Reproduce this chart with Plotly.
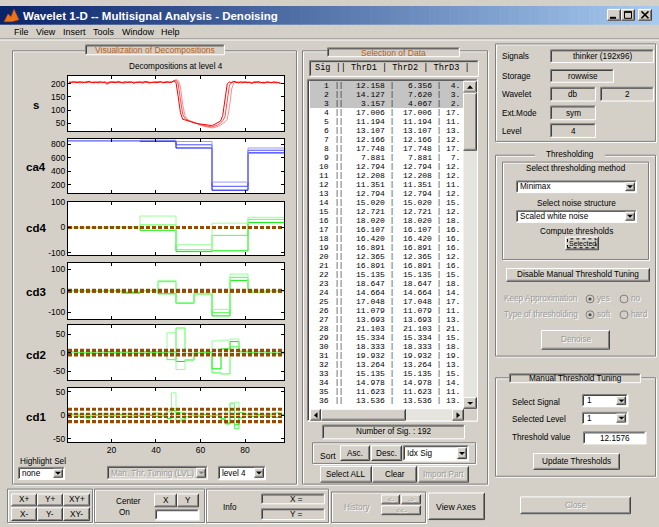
import plotly.graph_objects as go

# ------------------------------------------------------------------ data
s_sig1 = [207, 205, 209, 204, 206, 208, 203, 206, 205, 210,
          204, 206, 207, 203, 208, 205, 206, 198, 205, 207,
          206, 204, 209, 205, 203, 207, 206, 205, 208, 201,
          206, 205, 207, 204, 209, 206, 203, 205, 207, 204,
          206, 208, 205, 204, 207, 206, 205, 212, 205, 150,
          90, 65, 62, 60, 58, 55, 52, 50, 48, 47,
          45, 44, 42, 43, 41, 44, 48, 52, 58, 80,
          150, 200, 207, 204, 210, 205, 203, 208, 205, 207,
          204, 206, 201, 207, 205, 208, 204, 206, 203, 207,
          205, 204, 208, 203, 205, 202]
s_sig2 = [205, 207, 204, 208, 206, 203, 207, 205, 209, 206,
          207, 203, 205, 208, 206, 204, 207, 205, 203, 206,
          208, 206, 204, 207, 205, 202, 206, 208, 205, 207,
          204, 207, 206, 203, 205, 208, 206, 204, 206, 207,
          205, 207, 204, 206, 208, 205, 207, 209, 214, 200,
          140, 85, 68, 62, 58, 55, 52, 50, 46, 44,
          42, 40, 38, 37, 36, 38, 40, 44, 50, 60,
          75, 140, 195, 206, 208, 204, 207, 205, 203, 206,
          207, 205, 203, 206, 208, 204, 206, 202, 205, 207,
          204, 206, 203, 207, 204, 200]
s_sig3 = [203, 206, 205, 207, 204, 206, 208, 204, 206, 205,
          205, 208, 204, 206, 203, 207, 205, 204, 208, 206,
          204, 207, 205, 203, 206, 209, 205, 206, 204, 206,
          207, 206, 204, 208, 205, 207, 205, 206, 204, 208,
          207, 205, 206, 208, 204, 206, 208, 210, 216, 212,
          190, 120, 80, 66, 60, 56, 52, 48, 45, 42,
          40, 38, 36, 34, 32, 33, 35, 38, 42, 48,
          55, 65, 110, 180, 204, 207, 205, 203, 208, 206,
          204, 207, 206, 203, 205, 208, 206, 204, 207, 205,
          206, 203, 205, 207, 204, 202]

ca4_sig1 = [850, 850, 858, 838, 243, 743]
ca4_sig2 = [850, 850, 850, 790, 181, 710]
ca4_sig3 = [850, 850, 842, 743, 124, 671]

cd4_sig1 = [1, 0, 45, -68, 17, 40]
cd4_sig2 = [0, -1, 10, -88, -31, 32]
cd4_sig3 = [-1, 1, -11, -95, -92, 20]

cd3_sig1 = [0, 1, 0, -3, 0, 48, -55, -12, -86, 77, -4, 0]
cd3_sig2 = [1, 0, -1, -12, 1, 42, -58, -15, -101, 62, -7, 1]
cd3_sig3 = [0, -1, 1, -8, 0, -14, -56, -13, -116, 48, -2, -1]

cd2_sig1 = [1, -2, 2, 0, -1, 3, -2, 1, 0, -3, 2, 54, -46, -20, 1, -2, 32, 34, 37, -3, 2, -1, 1, 0]
cd2_sig2 = [-1, 1, -3, 2, 0, -1, 2, -2, 3, 0, -2, -19, 67, -2, -1, 2, -55, -58, 16, 2, -2, 3, -1, 2]
cd2_sig3 = [2, 0, 1, -2, 3, 1, -1, 0, -2, 2, 1, 2, -24, -20, 0, 1, -44, 10, 30, 4, 1, -2, 0, -3]

cd1_sig1 = [2, -1, 3, -2, 1, 0, -4, 2, 1, -1, 3, -5,
            2, 0, -2, 4, 1, -3, 2, 0, -1, 3, 8, 48,
            -10, 6, -3, 2, -1, 1, 0, -2, 3, -1, 4, 10,
            22, 28, -6, 4, -2, 5, -3, 1, 2, -1, 6, 0]
cd1_sig2 = [0, 2, -2, 1, -6, 3, 0, -1, 4, -3, 2, 1,
            -2, 3, -4, 0, 2, -1, 1, 5, -2, 2, 12, 14,
            -12, -8, 4, -1, 2, -3, 1, 0, -1, 2, -6, -15,
            26, -28, 6, 2, -3, 4, -1, 0, 3, -2, 5, 1]
cd1_sig3 = [-1, 3, 1, -3, 2, -2, 1, 3, -2, 0, -1, 2,
            4, -2, 1, -1, -3, 2, 0, -2, 3, -1, -6, 10,
            6, -12, -2, 3, 0, -1, 2, -2, 1, 0, -8, -18,
            14, -20, -4, 3, 1, -2, 2, -1, 0, 3, -4, 2]

thr_d1 = [12.158, 14.127, 3.157, 17.006, 11.194, 13.107, 12.166, 17.748, 7.881,
          12.794, 12.208, 11.351, 12.794, 15.020, 12.721, 18.020, 16.107, 16.420,
          16.891, 12.365, 16.891, 15.135, 18.647, 14.664, 17.048, 11.079, 13.693,
          21.103, 15.334, 18.333, 19.932, 13.264, 15.135, 14.978, 11.623, 13.536]
thr_d2_head = [6.356, 7.620, 4.067]
thr_d3_head = [4.512, 3.268, 2.413]
thr_d4_head = [1.9, 1.4, 1.0]
thr_d2 = thr_d2_head + thr_d1[3:]
thr_d3 = thr_d3_head + thr_d1[3:]
sig_index = list(range(1, 37))

x_ticks = [20, 40, 60, 80]
X_LO, X_HI = 0.5, 97.5

# ------------------------------------------------------------------ style helpers
W, H = 659, 527
BG = '#d4d0c8'
DARK = '#808080'
DARKER = '#404040'
WHITE = '#ffffff'
SANS = 'Liberation Sans, Arial, sans-serif'
MONO = 'Liberation Mono, Courier New, monospace'
ORANGE = '#b8621b'
BROWN = 'rgb(150,75,0)'

shapes, annos = [], []


def X(p):
    return p / W


def Y(p):
    return 1 - p / H


def q(v):
    return int(v) + 0.5


def rect(x0, y0, x1, y1, fill=None, line=None, lw=1, dash=None):
    ln = dict(width=0) if line is None else dict(color=line, width=lw)
    if dash:
        ln['dash'] = dash
    shapes.append(dict(type='rect', xref='paper', yref='paper', x0=X(x0), x1=X(x1),
                       y0=Y(y1), y1=Y(y0), fillcolor=fill if fill else 'rgba(0,0,0,0)',
                       line=ln, layer='above'))


def poly(pts, color, lw=1, fill=None, close=False):
    d = 'M ' + ' L '.join(f'{X(x):.5f},{Y(y):.5f}' for x, y in pts)
    if close:
        d += ' Z'
    shapes.append(dict(type='path', xref='paper', yref='paper', path=d,
                       line=dict(color=color, width=lw),
                       fillcolor=fill if fill else 'rgba(0,0,0,0)', layer='above'))


def text(x, y, s, size=8.5, color='#000000', anchor='center', bold=False, family=SANS,
         disabled=False):
    if bold:
        s = f'<b>{s}</b>'
    base = dict(xref='paper', yref='paper', showarrow=False, xanchor=anchor,
                yanchor='middle', text=s, borderpad=0)
    if disabled:
        annos.append(dict(base, x=X(x + 1), y=Y(y + 1),
                          font=dict(size=size, color=WHITE, family=family)))
        color = '#9a9a9a'
    annos.append(dict(base, x=X(x), y=Y(y), font=dict(size=size, color=color, family=family)))


def raised(x0, y0, x1, y1, fill=BG):
    rect(x0, y0, x1, y1, fill=fill)
    a0, b0, a1, b1 = q(x0), q(y0), q(x1) - 1, q(y1) - 1
    poly([(a0, b1), (a0, b0), (a1, b0)], WHITE)
    poly([(a0, b1), (a1, b1), (a1, b0)], DARKER)
    poly([(a0 + 1, b1 - 1), (a1 - 1, b1 - 1), (a1 - 1, b0 + 1)], DARK)


def sunken(x0, y0, x1, y1, fill=WHITE):
    rect(x0, y0, x1, y1, fill=fill)
    a0, b0, a1, b1 = q(x0), q(y0), q(x1) - 1, q(y1) - 1
    poly([(a0, b1), (a0, b0), (a1, b0)], DARK)
    poly([(a0 + 1, b1 - 1), (a0 + 1, b0 + 1), (a1 - 1, b0 + 1)], DARKER)
    poly([(a0, b1), (a1, b1), (a1, b0)], WHITE)


def frame(x0, y0, x1, y1):
    a0, b0, a1, b1 = q(x0), q(y0), q(x1), q(y1)
    poly([(a0 + 1, b0 + 1), (a1 + 1, b0 + 1), (a1 + 1, b1 + 1), (a0 + 1, b1 + 1)], WHITE, close=True)
    poly([(a0, b0), (a1, b0), (a1, b1), (a0, b1)], DARK, close=True)


def button(x0, y0, x1, y1, label, disabled=False, size=8.5):
    raised(x0, y0, x1, y1)
    text((x0 + x1) / 2, (y0 + y1) / 2, label, size=size, disabled=disabled)


def arrow_down(cx, cy, color='#000000'):
    poly([(cx - 3, cy - 1.5), (cx + 3, cy - 1.5), (cx, cy + 1.5)], color, lw=0, fill=color, close=True)


def popup(x0, y0, x1, y1, label, fill=WHITE, disabled=False, size=8.2):
    sunken(x0, y0, x1, y1, fill)
    bx0, by0, bx1, by1 = x1 - 12, y0 + 2, x1 - 2, y1 - 2
    raised(bx0, by0, bx1, by1)
    arrow_down((bx0 + bx1) / 2, (by0 + by1) / 2, '#808080' if disabled else '#000000')
    text(x0 + 3, (y0 + y1) / 2, label, anchor='left', size=size, disabled=disabled)


def radio(cx, cy, on):
    shapes.append(dict(type='circle', xref='paper', yref='paper', x0=X(cx - 4), x1=X(cx + 4),
                       y0=Y(cy + 4), y1=Y(cy - 4), fillcolor=BG,
                       line=dict(color='#808080', width=1), layer='above'))
    if on:
        shapes.append(dict(type='circle', xref='paper', yref='paper', x0=X(cx - 1.6),
                           x1=X(cx + 1.6), y0=Y(cy + 1.6), y1=Y(cy - 1.6),
                           fillcolor='#505050', line=dict(width=0), layer='above'))


# ------------------------------------------------------------------ window chrome
n_grad = 66
c0, c1 = (10, 36, 106), (166, 202, 240)
for k in range(n_grad):
    t = k / (n_grad - 1)
    col = 'rgb(%d,%d,%d)' % tuple(round(a + (b - a) * t) for a, b in zip(c0, c1))
    rect(k * W / n_grad, 1, (k + 1) * W / n_grad + 0.6, 20, fill=col)
poly([(4, 17), (8, 9), (11, 12), (14, 4), (19, 15), (12, 17)], '#c04000', lw=0.5,
     fill='#e8751a', close=True)
text(22, 11, 'Wavelet 1-D -- Multisignal Analysis - Denoising', size=11.5, color=WHITE,
     anchor='left', bold=True)
for bx0, bx1 in [(607, 621), (621, 635), (638, 652)]:
    raised(bx0, 4, bx1, 16)
poly([(610, 13), (616, 13)], '#000000', lw=2)
poly([(624.5, 6.5), (631.5, 6.5), (631.5, 13.5), (624.5, 13.5)], '#000000', lw=1, close=True)
poly([(624.5, 7.5), (631.5, 7.5)], '#000000', lw=1)
poly([(641.5, 6.5), (648.5, 13.5)], '#000000', lw=1.5)
poly([(648.5, 6.5), (641.5, 13.5)], '#000000', lw=1.5)

for lab, mx in [('File', 12.5), ('View', 35), ('Insert', 61.5), ('Tools', 91.5),
                ('Window', 120.5), ('Help', 160)]:
    text(mx, 27.5, lab, size=9, anchor='left')
poly([(0, 34.5), (W, 34.5)], DARK)
poly([(0, 35.5), (W, 35.5)], WHITE)

# ------------------------------------------------------------------ left panel
frame(12.5, 46.5, 296, 486.5)
sunken(85, 40.5, 225, 51, fill=BG)
text(155, 46, 'Visualization of Decompositions', size=8.5, color=ORANGE)
text(176, 62, 'Decompositions at level 4', size=8.2)
for lab, ly in [('s', 101.5), ('ca4', 165), ('cd4', 226.5), ('cd3', 291.5), ('cd2', 355),
                ('cd1', 418)]:
    text(36, ly, lab, size=11.5, bold=True)
text(19, 463.5, 'Highlight Sel', size=8.2, anchor='left')
popup(18, 469, 65, 482, 'none')
popup(107, 468, 208.5, 482.5, 'Man. Thr. Tuning (LVL)', fill=BG, disabled=True)
popup(218, 468, 266, 482.5, 'level 4')

# ------------------------------------------------------------------ middle panel
frame(302.5, 46.5, 487, 486.5)
sunken(327, 43, 460, 53.5, fill=BG)
text(393.5, 48.3, 'Selection of Data', size=8.5, color=ORANGE)
sunken(309, 56, 479, 73.5, fill=BG)
hdr = 'Sig || ThrD1 | ThrD2 | ThrD3 |'.replace(' ', '\u00a0')
text(314.2, 63.5, hdr, size=8.6, family=MONO, anchor='left')
sunken(307.5, 75.5, 478, 423, fill=WHITE)
rect(310, 77.2, 463.5, 104.6, fill='#c4c4c4')
row_h = 9.13
NUM = 8.0
SEP = 6.8
for i, (si, a, b, c) in enumerate(zip(sig_index, thr_d1, thr_d2, thr_d3)):
    ry = 81.9 + i * row_h
    text(330, ry, str(si), size=NUM, family=MONO, anchor='right')
    text(338.6, ry - 0.3, '||', size=SEP, family=MONO)
    text(385.8, ry, f'{a:.3f}', size=NUM, family=MONO, anchor='right')
    text(392, ry - 0.3, '|', size=SEP, family=MONO)
    text(432.8, ry, f'{b:.3f}', size=NUM, family=MONO, anchor='right')
    text(439.2, ry - 0.3, '|', size=SEP, family=MONO)
    text(445.4, ry, f'{c:6.3f}'[:3].replace(' ', '\u00a0'), size=NUM, family=MONO, anchor='left')
# vertical scrollbar
rect(463.5, 77, 477, 410, fill='#e6e4df')
raised(463.5, 77, 477, 89.5)
poly([(467, 85), (473, 85), (470, 81.5)], '#000000', lw=0, fill='#000000', close=True)
raised(463.5, 89.5, 477, 148)
raised(463.5, 398.5, 477, 410.5)
arrow_down(470.2, 404.5)
# horizontal scrollbar
rect(310, 410.5, 463.5, 422, fill='#e6e4df')
raised(310, 410.5, 321.5, 422)
poly([(317.5, 413.5), (317.5, 419.5), (314, 416.5)], '#000000', lw=0, fill='#000000', close=True)
raised(321.5, 410.5, 406, 422)
raised(452.5, 410.5, 464, 422)
poly([(456.5, 413.5), (456.5, 419.5), (460, 416.5)], '#000000', lw=0, fill='#000000', close=True)
rect(464, 410.5, 477, 422, fill=BG)

sunken(322, 426, 465, 441, fill=BG)
text(393.5, 433.5, 'Number of Sig. : 192', size=8.2)
frame(312, 444.5, 475, 465.5)
text(327.5, 457.5, 'Sort', size=8.5)
button(340, 447.5, 370.5, 463.5, 'Asc.', size=8.2)
button(371, 447.5, 402.5, 463.5, 'Desc.', size=8.2)
popup(403, 447.5, 469, 463.5, 'Idx Sig')
button(320.5, 468, 372, 485, 'Select ALL', size=8.2)
button(372.5, 468, 417, 485, 'Clear', size=8.2)
button(418, 468, 469.5, 485, 'Import Part', disabled=True, size=8.2)

# ------------------------------------------------------------------ right panel : info
frame(495, 39.5, 655, 138.5)
info_rows = [('Signals', 52.5, [(550.5, 654, 'thinker (192x96)')]),
             ('Storage', 72.5, [(550.5, 614.5, 'rowwise')]),
             ('Wavelet', 91, [(550.5, 596, 'db'), (600, 654, '2')]),
             ('Ext.Mode', 110, [(550.5, 596, 'sym')]),
             ('Level', 128, [(550.5, 596, '4')])]
for lab, ly, boxes in info_rows:
    text(500.5, ly, lab, size=8.2, anchor='left')
    for bx0, bx1, val in boxes:
        sunken(bx0, ly - 7.5, bx1, ly + 7, fill=BG)
        text((bx0 + bx1) / 2, ly, val, size=8.2)

# ------------------------------------------------------------------ right panel : thresholding
frame(495, 152, 655, 356.5)
rect(535, 147, 605, 156, fill=BG)
text(570, 151.5, 'Thresholding', size=8.2)
frame(502, 159.5, 648.5, 258.5)
text(576, 166.5, 'Select thresholding method', size=8.2)
popup(516, 178, 637, 191, 'Minimax')
text(576, 201.5, 'Select noise structure', size=8.2)
popup(516, 208, 637, 221, 'Scaled white noise')
text(576, 229.5, 'Compute thresholds', size=8.2)
raised(565, 235, 599, 249.5)
rect(567.5, 237.5, 596, 246.5, line='#000000', dash='dot')
text(582, 242, 'Selected', size=7)
button(506, 267, 650, 281, 'Disable Manual Threshold Tuning', size=8.2)
text(503, 298.5, 'Keep Approximation', size=8.2, anchor='left', disabled=True)
radio(590, 298.5, True)
text(596, 298.5, 'yes', size=8.2, anchor='left', disabled=True)
radio(624, 298.5, False)
text(630, 298.5, 'no', size=8.2, anchor='left', disabled=True)
text(503, 314.5, 'Type of thresholding', size=8.2, anchor='left', disabled=True)
radio(590, 314.5, True)
text(596, 314.5, 'soft', size=8.2, anchor='left', disabled=True)
radio(624, 314.5, False)
text(630, 314.5, 'hard', size=8.2, anchor='left', disabled=True)
button(541, 330, 610, 350, 'Denoise', disabled=True, size=8.2)

# ------------------------------------------------------------------ right panel : manual tuning
frame(495, 378.5, 655, 478.5)
sunken(509, 374.5, 641.5, 384, fill=BG)
text(575, 379.3, 'Manual Threshold Tuning', size=8.2)
text(510.5, 403.5, 'Select Signal', size=8.2, anchor='left')
popup(582.5, 395.5, 628.5, 408.5, '1')
text(510.5, 421, 'Selected Level', size=8.2, anchor='left')
popup(582.5, 413, 628.5, 426, '1')
text(510.5, 439.5, 'Threshold value', size=8.2, anchor='left')
sunken(583, 433.5, 646.5, 446, fill=WHITE)
text(614.7, 440, '12.1576', size=8.2)
button(533, 455, 620.5, 472.5, 'Update Thresholds', size=8.2)
button(520.5, 499.5, 631, 517.5, 'Close', disabled=True, size=8.2)

# ------------------------------------------------------------------ bottom toolbar
frame(7, 491.5, 92.5, 525.5)
for lab, bx0, bx1, by0, by1 in [('X+', 11.5, 37, 496, 509), ('Y+', 37, 63.5, 496, 509),
                                ('XY+', 63.5, 90, 496, 509), ('X-', 11.5, 37, 510, 524),
                                ('Y-', 37, 63.5, 510, 524), ('XY-', 63.5, 90, 510, 524)]:
    button(bx0, by0, bx1, by1, lab, size=8.2)
frame(94.5, 491.5, 204, 525.5)
text(128.5, 504.5, 'Center', size=8.2)
text(124, 515, 'On', size=8.2)
button(154, 496.5, 177, 510.5, 'X', size=8.2)
button(177, 496.5, 199.5, 510.5, 'Y', size=8.2)
sunken(155, 512.5, 199.5, 523.5, fill=WHITE)
frame(206.5, 491.5, 328, 525.5)
text(229.5, 510, 'Info', size=8.2)
sunken(261.5, 496.5, 325, 507.5, fill=BG)
text(296, 502, 'X =', size=8.2)
sunken(261.5, 511.5, 325, 523, fill=BG)
text(296, 517.3, 'Y =', size=8.2)
frame(331.5, 494.5, 425, 525.5)
text(357, 510, 'History', size=8.2, disabled=True)
button(381.5, 497.5, 400.5, 507.5, '<-', disabled=True, size=7)
button(401, 497.5, 421, 507.5, '->', disabled=True, size=7)
button(381.5, 508, 421, 518.5, '<<-', disabled=True, size=7)
button(428, 495, 485.5, 523.5, 'View Axes', size=8.7)

# ------------------------------------------------------------------ plots
fig = go.Figure()


def stairs_x(n):
    step = (X_HI - X_LO) / n
    return [X_LO + k * step for k in range(n + 1)]


panels = [
    dict(top=72, bot=128, rng=[20, 230], tv=[50, 100, 150, 200]),
    dict(top=136, bot=191, rng=[81, 876], tv=[200, 400, 600, 800]),
    dict(top=200, bot=254, rng=[-109, 100.5], tv=[-100, 0, 100]),
    dict(top=262, bot=319, rng=[-131, 128], tv=[-100, 0, 100]),
    dict(top=325, bot=381, rng=[-75, 75], tv=[-50, 0, 50]),
    dict(top=389, bot=444, rng=[-57, 58], tv=[-50, 0, 50]),
]

red_cols = ['#ff8c8c', '#ff4a4a', '#ff0000']
blue_cols = ['#0000ff', '#4d4dff', '#9999ff']
green_cols = ['#00f000', '#4dff4d', '#99ff99']

# s
sig_x = list(range(1, len(s_sig1) + 1))
for vals, col in zip([s_sig3, s_sig2, s_sig1], red_cols):
    fig.add_trace(go.Scatter(x=sig_x, y=vals, mode='lines', line=dict(color=col, width=1),
                             xaxis='x', yaxis='y'))
# ca4
for vals, col in zip([ca4_sig3, ca4_sig2, ca4_sig1], blue_cols):
    fig.add_trace(go.Scatter(x=stairs_x(len(vals)), y=vals + [vals[-1]], mode='lines',
                             line=dict(color=col, width=1, shape='hv'), xaxis='x2', yaxis='y2'))

detail = [
    ('3', [cd4_sig1, cd4_sig2, cd4_sig3], thr_d4_head),
    ('4', [cd3_sig1, cd3_sig2, cd3_sig3], thr_d3[:3]),
    ('5', [cd2_sig1, cd2_sig2, cd2_sig3], thr_d2[:3]),
    ('6', [cd1_sig1, cd1_sig2, cd1_sig3], thr_d1[:3]),
]
for k, sigs, thrs in detail:
    for vals, col in zip(sigs[::-1], green_cols):
        fig.add_trace(go.Scatter(x=stairs_x(len(vals)), y=vals + [vals[-1]], mode='lines',
                                 line=dict(color=col, width=1, shape='hv'),
                                 xaxis='x' + k, yaxis='y' + k))
    for t in thrs:
        for sgn in (1, -1):
            fig.add_trace(go.Scatter(x=[X_LO, X_HI], y=[sgn * t, sgn * t], mode='lines',
                                     line=dict(color=BROWN, width=2.2, dash='4px,2px'),
                                     xaxis='x' + k, yaxis='y' + k))

tickfont = dict(size=8.5, family=SANS, color='#000000')
layout_axes = {}
for i, p in enumerate(panels):
    k = '' if i == 0 else str(i + 1)
    layout_axes['xaxis' + k] = dict(
        domain=[X(68), X(284)], range=[X_LO, X_HI], anchor='y' + k,
        tickvals=x_ticks, ticktext=[str(v) for v in x_ticks], showticklabels=(i == 5),
        ticks='inside', ticklen=3, tickcolor='#000000', showline=True, linecolor='#000000',
        linewidth=1, mirror='ticks', showgrid=False, zeroline=False, fixedrange=True,
        tickfont=tickfont)
    layout_axes['yaxis' + k] = dict(
        domain=[Y(p['bot']), Y(p['top'])], range=p['rng'], anchor='x' + k,
        tickvals=p['tv'], ticktext=[str(v) for v in p['tv']], ticks='inside', ticklen=3,
        tickcolor='#000000', showline=True, linecolor='#000000', linewidth=1, mirror='ticks',
        showgrid=False, zeroline=False, fixedrange=True, tickfont=tickfont)

fig.update_traces(showlegend=False, hoverinfo='skip')
fig.update_layout(width=W, height=H, autosize=False, margin=dict(l=0, r=0, t=0, b=0),
                  paper_bgcolor=BG, plot_bgcolor='#ffffff', showlegend=False,
                  hovermode=False, shapes=shapes, annotations=annos, **layout_axes)
fig.write_html('out.html', config={'displayModeBar': False},
               post_script="document.body.style.margin='0px';document.body.style.padding='0px';"
                           "document.body.style.overflow='hidden';")
